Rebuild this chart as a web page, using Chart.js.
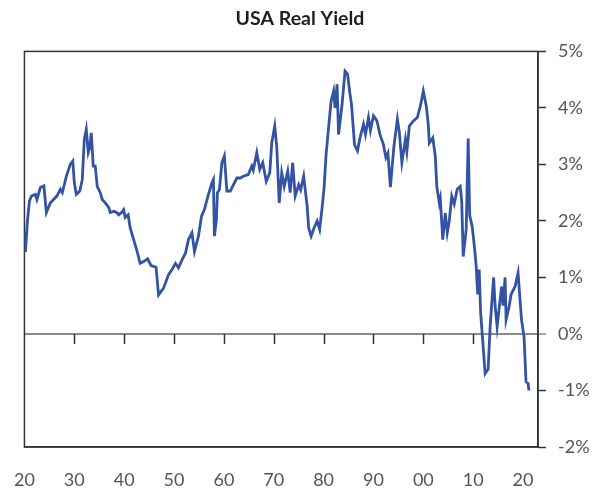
<!DOCTYPE html>
<html><head><meta charset="utf-8">
<script src="https://cdn.jsdelivr.net/npm/chart.js@4"></script>
<style>html,body{margin:0;padding:0;background:#fff}#c{display:block}</style>
</head><body>
<canvas id="c" width="600" height="490"></canvas>
<script>
const chartTitle = 'USA Real Yield';
const years = [1920.0,1920.2,1920.6,1921.0,1921.4,1922.2,1922.5,1923.2,1923.9,1924.4,1925.2,1926.5,1927.2,1927.6,1928.4,1929.2,1929.7,1930.0,1930.4,1931.1,1931.6,1932.0,1932.4,1932.8,1933.1,1933.4,1933.8,1934.2,1934.6,1935.2,1935.6,1936.2,1936.9,1937.2,1937.9,1938.5,1938.9,1939.5,1939.9,1940.2,1940.8,1941.2,1941.9,1942.6,1943.2,1943.9,1944.7,1945.4,1946.4,1946.9,1947.9,1948.9,1949.6,1950.3,1950.9,1951.6,1952.3,1952.9,1953.6,1954.1,1954.9,1955.5,1956.1,1956.8,1957.6,1957.9,1958.1,1958.5,1958.7,1959.1,1959.6,1960.1,1960.6,1961.3,1961.9,1962.6,1963.3,1963.9,1964.9,1965.6,1965.9,1966.6,1967.2,1967.8,1968.5,1969.2,1969.6,1970.2,1970.6,1971.1,1971.6,1972.1,1972.8,1973.3,1973.8,1974.3,1975.0,1975.4,1976.0,1976.7,1977.0,1977.5,1978.1,1978.7,1979.2,1979.7,1980.1,1980.5,1981.0,1981.5,1982.0,1982.3,1982.7,1983.0,1983.7,1984.3,1984.8,1985.3,1985.6,1986.2,1986.8,1987.3,1988.0,1988.4,1989.0,1989.4,1990.0,1990.7,1991.3,1992.0,1992.5,1992.9,1993.4,1994.1,1994.8,1995.2,1995.7,1996.4,1996.7,1997.2,1998.0,1998.8,1999.4,2000.0,2000.6,2001.0,2001.2,2001.9,2002.4,2002.7,2003.2,2003.4,2003.9,2004.4,2004.8,2005.2,2005.7,2006.2,2006.8,2007.4,2007.7,2008.0,2008.6,2009.0,2009.3,2009.8,2010.3,2010.6,2010.9,2011.2,2011.5,2012.0,2012.4,2013.0,2013.4,2014.1,2014.4,2014.8,2015.7,2016.0,2016.4,2016.6,2017.2,2017.6,2018.4,2019.0,2019.7,2020.2,2020.6,2021.0,2021.2];
const yields = [1.8,1.45,2.0,2.35,2.44,2.47,2.38,2.59,2.62,2.15,2.32,2.44,2.56,2.5,2.79,3.0,3.06,2.68,2.47,2.53,2.73,3.44,3.62,3.21,3.3,3.56,2.97,2.97,2.61,2.5,2.38,2.32,2.24,2.15,2.17,2.15,2.11,2.15,2.2,2.06,2.11,1.88,1.67,1.46,1.25,1.28,1.33,1.21,1.18,0.69,0.81,1.05,1.14,1.25,1.17,1.31,1.43,1.67,1.79,1.46,1.73,2.08,2.2,2.44,2.67,2.73,1.73,2.02,2.5,2.55,3.03,3.15,2.53,2.53,2.64,2.76,2.76,2.79,2.82,2.97,2.9,3.21,2.91,3.03,2.7,2.85,3.38,3.68,3.32,2.32,2.85,2.61,2.88,2.5,3.03,2.44,2.64,2.55,2.79,2.26,1.88,1.73,1.88,2.0,1.85,2.23,2.59,3.18,3.65,4.12,4.3,4.0,4.42,3.53,4.06,4.65,4.6,4.24,4.06,3.35,3.24,3.47,3.71,3.53,3.83,3.6,3.86,3.77,3.53,3.35,3.12,3.2,2.6,3.32,3.8,3.56,3.03,3.44,3.23,3.68,3.77,3.83,4.03,4.3,4.03,3.7,3.38,3.47,3.15,2.61,2.32,2.4,1.67,2.14,1.79,2.0,2.44,2.3,2.56,2.61,2.35,1.37,1.85,3.46,2.1,1.9,1.5,1.2,0.7,1.14,0.37,-0.22,-0.7,-0.62,0.13,1.0,0.5,0.13,0.84,0.5,1.0,0.25,0.48,0.7,0.84,1.08,0.25,-0.05,-0.85,-0.87,-1.0];
const xTickValues = [1920,1930,1940,1950,1960,1970,1980,1990,2000,2010,2020];
const xTickLabels = ['20','30','40','50','60','70','80','90','00','10','20'];
const zeroLineTickYears = [1930,1940,1950,1960,1970,1980,1990,2000,2010];
const yTickValues = [-2,-1,0,1,2,3,4,5];
const yTickLabels = ['-2%','-1%','0%','1%','2%','3%','4%','5%'];

const frameColor = '#333333';
const labelFont = {family: 'Lato', size: 18};

const framePlugin = {
  id: 'frame',
  beforeDatasetsDraw(chart) {
    const {ctx, chartArea: a, scales} = chart;
    ctx.save();
    ctx.strokeStyle = frameColor;
    ctx.lineWidth = 1.5;
    ctx.strokeRect(a.left, a.top, a.right - a.left, a.bottom - a.top);
    const y0 = scales.y.getPixelForValue(0);
    ctx.beginPath();
    zeroLineTickYears.forEach(yr => {
      const px = Math.round(scales.x.getPixelForValue(yr)) + 0.5;
      ctx.moveTo(px, y0);
      ctx.lineTo(px, y0 + 10);
    });
    ctx.stroke();
    ctx.restore();
  }
};

new Chart(document.getElementById('c'), {
  type: 'line',
  data: {
    datasets: [{
      data: years.map((x, i) => ({x: x, y: yields[i]})),
      xAxisID: 'x',
      yAxisID: 'y',
      borderColor: '#3553a4',
      borderWidth: 2.8,
      pointRadius: 0,
      tension: 0,
      fill: false
    }]
  },
  options: {
    responsive: false,
    devicePixelRatio: 1,
    animation: false,
    layout: {padding: {left: 0, right: 0, top: 0, bottom: 0}},
    plugins: {
      legend: {display: false},
      tooltip: {enabled: false},
      title: {
        display: true,
        text: chartTitle,
        font: {family: 'Lato', size: 19.5, weight: 'bold'},
        color: '#1e1e1e',
        padding: {top: 7, bottom: 21}
      }
    },
    scales: {
      x: {
        type: 'linear',
        position: 'bottom',
        min: 1920,
        max: 2023,
        afterBuildTicks: s => { s.ticks = xTickValues.map(v => ({value: v})); },
        ticks: {
          font: labelFont,
          color: '#555555',
          padding: 14,
          maxRotation: 0,
          autoSkip: false,
          callback: (v, i) => xTickLabels[i]
        },
        grid: {display: false},
        border: {display: true, color: frameColor, width: 1.5},
        afterFit: s => { s.height = 43; }
      },
      yl: {
        type: 'linear',
        position: 'left',
        display: true,
        min: 0,
        max: 1,
        ticks: {display: false},
        grid: {display: false},
        border: {display: false},
        afterFit: s => { s.width = 24; }
      },
      y: {
        type: 'linear',
        position: 'right',
        min: -2,
        max: 5,
        afterBuildTicks: s => { s.ticks = yTickValues.map(v => ({value: v})); },
        ticks: {
          font: labelFont,
          color: '#555555',
          padding: 12,
          callback: (v, i) => yTickLabels[i]
        },
        grid: {
          drawOnChartArea: true,
          color: c => (c.tick && c.tick.value === 0) ? '#8a8a8a' : 'rgba(0,0,0,0)',
          lineWidth: c => (c.tick && c.tick.value === 0) ? 2 : 1,
          tickColor: c => (c.tick && c.tick.value === 0) ? '#8a8a8a' : frameColor,
          tickWidth: 1.5,
          tickLength: 8
        },
        border: {display: true, color: frameColor, width: 1.5},
        afterFit: s => { s.width = 62; }
      }
    }
  },
  plugins: [framePlugin]
});
</script>
</body></html>
